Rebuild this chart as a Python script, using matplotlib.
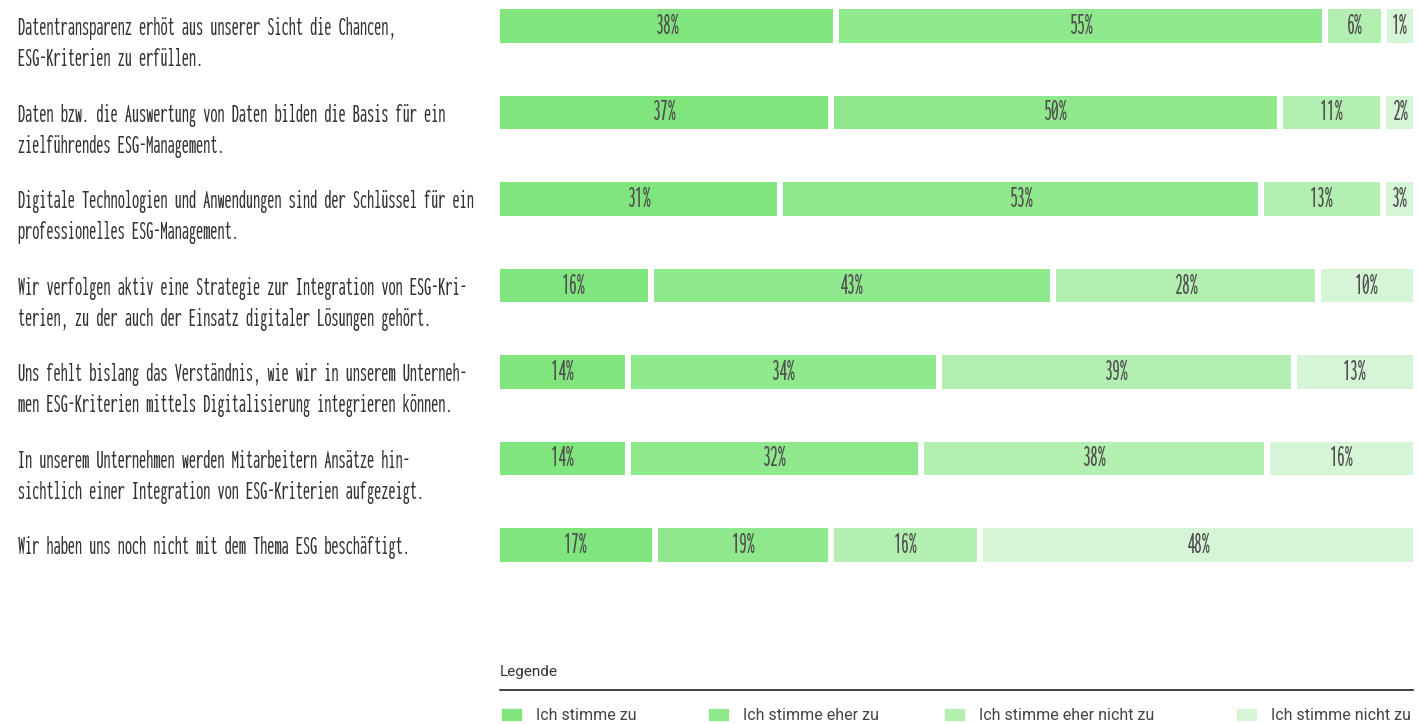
import matplotlib
matplotlib.use("Agg")
from matplotlib import pyplot as plt, transforms
from matplotlib import font_manager
from matplotlib.textpath import TextPath
import numpy as np

# survey statements and answer shares (%)
statements = [
    "Datentransparenz erhöt aus unserer Sicht die Chancen,\nESG-Kriterien zu erfüllen.",
    "Daten bzw. die Auswertung von Daten bilden die Basis für ein\nzielführendes ESG-Management.",
    "Digitale Technologien und Anwendungen sind der Schlüssel für ein\nprofessionelles ESG-Management.",
    "Wir verfolgen aktiv eine Strategie zur Integration von ESG-Kri-\nterien, zu der auch der Einsatz digitaler Lösungen gehört.",
    "Uns fehlt bislang das Verständnis, wie wir in unserem Unterneh-\nmen ESG-Kriterien mittels Digitalisierung integrieren können.",
    "In unserem Unternehmen werden Mitarbeitern Ansätze hin-\nsichtlich einer Integration von ESG-Kriterien aufgezeigt.",
    "Wir haben uns noch nicht mit dem Thema ESG beschäftigt.",
]
stimme_zu = [38, 37, 31, 16, 14, 14, 17]
eher_zu = [55, 50, 53, 43, 34, 32, 19]
eher_nicht_zu = [6, 11, 13, 28, 39, 38, 16]
nicht_zu = [1, 2, 3, 10, 13, 16, 48]
legend_labels = ["Ich stimme zu", "Ich stimme eher zu",
                 "Ich stimme eher nicht zu", "Ich stimme nicht zu"]
greens = ["#80e57d", "#8fe88c", "#b2efb0", "#d6f5d6"]

longest = max((ln for s in statements for ln in s.split("\n")), key=len)


def text_extents(prop, s, size=10):
    return TextPath((0, 0), s, prop=prop, size=size).get_extents()


# pick the narrowest regular-weight face that is installed
skip = ("Bold", "Oblique", "Italic", "Black", "Light", "Thin", "Medium", "Semi")
candidates = [f for f in font_manager.findSystemFonts()
              if ("Condensed" in f or "Narrow" in f)
              and not any(k in f for k in skip)]
props = [font_manager.FontProperties(family="Liberation Sans")]
for f in candidates:
    try:
        props.append(font_manager.FontProperties(fname=f))
    except Exception:
        pass
narrow = min(props, key=lambda p: text_extents(p, longest).width)

# font size so that the longest statement line is ~450 px wide
w10 = text_extents(narrow, longest).width * 100 / 72  # px at 10 pt
label_size = 10 * 450 / w10
pct_size = label_size * 1.12
# ~29 px between statement lines
asc_px = text_extents(narrow, "lp", label_size).y1 * 100 / 72
spacing = 27 / asc_px

W, H = 1418, 724
fig = plt.figure(figsize=(W / 100, H / 100), dpi=100)

# bar area: rows spaced 86.5 px, first row centred at y=26 px
top_px, bot_px = 0, 600
y0, step = 26, 86.5
ax = fig.add_axes([500 / W, 1 - bot_px / H, 913 / W, (bot_px - top_px) / H])
ax.set_ylim((bot_px - y0) / step, (top_px - y0) / step)
gap = 0.67
min_w = 3.0
ax.set_xlim(0, 100 + 3 * gap)
ax.axis("off")

data = np.array([stimme_zu, eher_zu, eher_nicht_zu, nicht_zu], dtype=float).T
for i, row in enumerate(data):
    shown = np.maximum(row, min_w)
    shown = shown / shown.sum() * 100
    left = 0
    for j, (v, w) in enumerate(zip(row, shown)):
        ax.barh(i, w, left=left, height=0.393, color=greens[j], linewidth=0)
        ax.text(left + w / 2, i, f"{int(v)}%", ha="center", va="center",
                fontproperties=narrow, fontsize=pct_size, color="#505050")
        left += w + gap

tr = transforms.blended_transform_factory(fig.transFigure, ax.transData)
for i, s in enumerate(statements):
    ax.text(18 / W, i - 0.10, s, transform=tr, ha="left", va="top",
            fontproperties=narrow, fontsize=label_size, color="#333333",
            linespacing=spacing)

# legend
fig.text(500 / W, 1 - 672 / H, "Legende", fontsize=11, color="#333333",
         va="center", ha="left", family="Roboto")
fig.add_artist(plt.Line2D([500 / W, 1413 / W], [1 - 690 / H, 1 - 690 / H],
                          color="#222222", lw=1.2))
leg_x = [502, 709, 945, 1237]
for x, lab, c in zip(leg_x, legend_labels, greens):
    fig.add_artist(plt.Rectangle((x / W, 1 - 720 / H), 19 / W, 11 / H,
                                 color=c, transform=fig.transFigure))
    fig.text((x + 34) / W, 1 - 715 / H, lab, fontsize=11.5, color="#444444",
             va="center", ha="left", family="Roboto")

fig.savefig("out.png", dpi=100)
